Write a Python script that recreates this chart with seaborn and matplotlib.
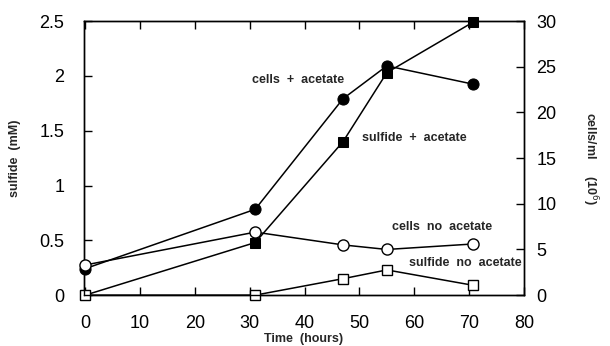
import matplotlib
matplotlib.use("Agg")
import matplotlib.pyplot as plt
import seaborn as sns
import pandas as pd

time_h = [0, 31, 47, 55, 70.7]
sulfide_acetate = [0.0, 0.48, 1.40, 2.03, 2.49]
sulfide_no_acetate = [0.0, 0.0, 0.15, 0.23, 0.09]
cells_acetate = [2.9, 9.4, 21.5, 25.1, 23.1]
cells_no_acetate = [3.3, 6.9, 5.5, 5.0, 5.6]

x_ticks = [0, 10, 20, 30, 40, 50, 60, 70, 80]
left_ticks = [0, 0.5, 1, 1.5, 2, 2.5]
left_labels = ["0", "0.5", "1", "1.5", "2", "2.5"]
right_ticks = [0, 5, 10, 15, 20, 25, 30]

sns.set_theme(style="ticks")
plt.rcParams['font.family'] = ['Liberation Sans', 'DejaVu Sans']

fig = plt.figure(figsize=(6.1, 3.46), dpi=100)
ax = fig.add_axes([0.137, 0.147, 0.722, 0.792])
ax2 = ax.twinx()

df_s = pd.DataFrame({"t": time_h, "sa": sulfide_acetate, "sn": sulfide_no_acetate})
df_c = pd.DataFrame({"t": time_h, "ca": cells_acetate, "cn": cells_no_acetate})

common = dict(color="black", linewidth=1.1, clip_on=False, zorder=3)
sns.lineplot(data=df_s, x="t", y="sa", ax=ax, marker="s", markersize=7,
             markerfacecolor="black", markeredgecolor="black", **common)
sns.lineplot(data=df_s, x="t", y="sn", ax=ax, marker="s", markersize=7,
             markerfacecolor="white", markeredgecolor="black", markeredgewidth=1.0, **common)
sns.lineplot(data=df_c, x="t", y="ca", ax=ax2, marker="o", markersize=8,
             markerfacecolor="black", markeredgecolor="black", **common)
sns.lineplot(data=df_c, x="t", y="cn", ax=ax2, marker="o", markersize=8,
             markerfacecolor="white", markeredgecolor="black", markeredgewidth=1.0, **common)

ax.set_xlim(-0.3, 80)
ax.set_ylim(0, 2.5)
ax2.set_ylim(0, 30)
ax.set_xticks(x_ticks)
ax.set_xticklabels([str(v) for v in x_ticks], fontsize=13)
ax.set_yticks(left_ticks)
ax.set_yticklabels(left_labels, fontsize=13)
ax2.set_yticks(right_ticks)
ax2.set_yticklabels([str(v) for v in right_ticks], fontsize=13)

ax.tick_params(axis="x", direction="in", length=6, width=1, top=True, pad=14, colors="black")
ax.tick_params(axis="y", direction="in", length=6, width=1, pad=14, colors="black")
ax2.tick_params(axis="y", direction="in", length=6, width=1, pad=9, colors="black")

for a in (ax, ax2):
    for s in a.spines.values():
        s.set_visible(True)
        s.set_color("black")
        s.set_linewidth(1.0)

ax.set_xlabel("Time  (hours)", fontsize=9, fontweight="bold", labelpad=1)
ax.set_ylabel("sulfide  (mM)", fontsize=9, fontweight="bold", labelpad=13)
ax2.set_ylabel("cells/ml     (10$^6$)", fontsize=9, fontweight="bold", rotation=-90, labelpad=31)

ax.text(30.5, 1.96, "cells  +  acetate", fontsize=9, fontweight="bold", ha="left", va="center")
ax.text(50.5, 1.43, "sulfide  +  acetate", fontsize=9, fontweight="bold", ha="left", va="center")
ax.text(56, 0.62, "cells  no  acetate", fontsize=9, fontweight="bold", ha="left", va="center")
ax.text(59, 0.29, "sulfide  no  acetate", fontsize=9, fontweight="bold", ha="left", va="center")

fig.savefig("out.png", dpi=100)
